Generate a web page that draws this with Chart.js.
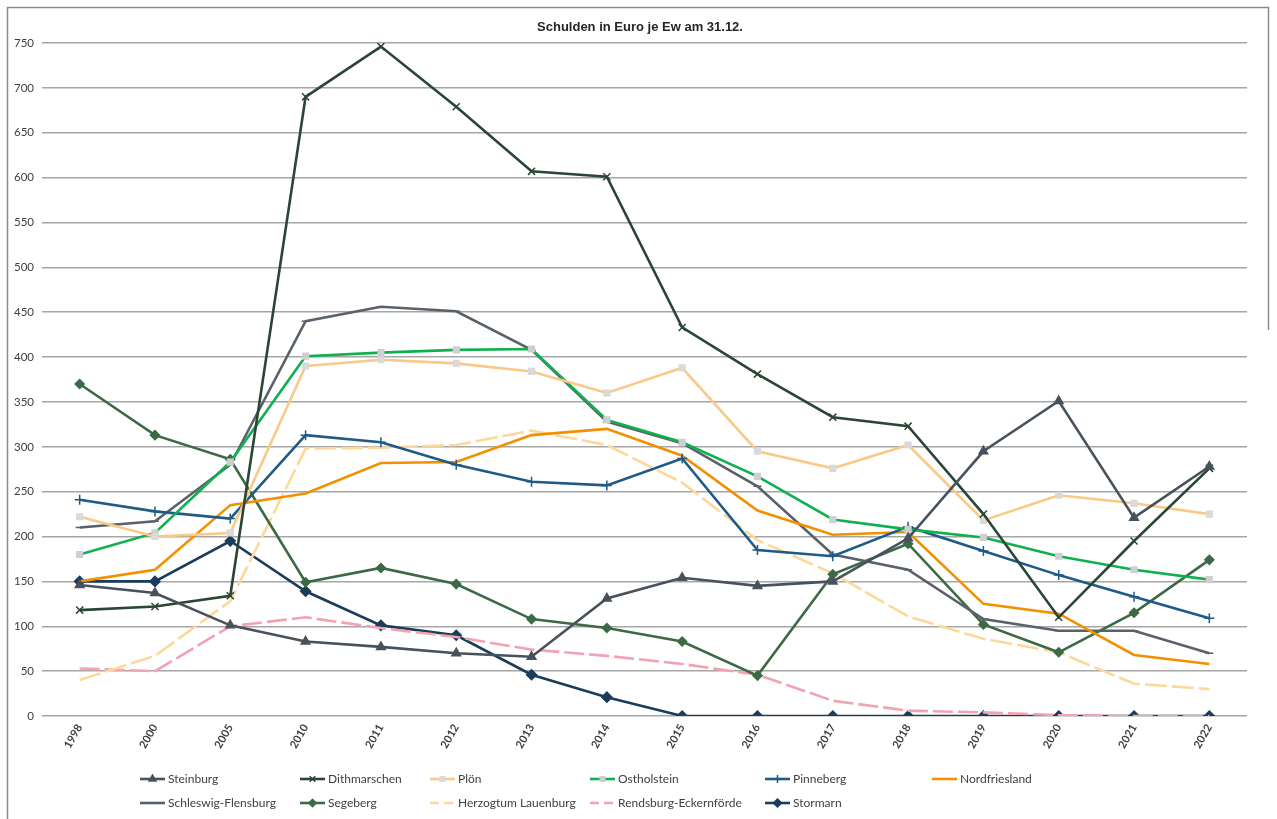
<!DOCTYPE html>
<html>
<head>
<meta charset="utf-8">
<script src="https://cdn.jsdelivr.net/npm/chart.js@4"></script>
<style>
  html, body { margin: 0; padding: 0; background: #fff; }
  #box { width: 1277px; height: 819px; }
</style>
</head>
<body>
<div id="box"><canvas id="Migrafica" width="1277" height="819"></canvas></div>
<script>
var titel = 'Schulden in Euro je Ew am 31.12.';
var jahre = ['1998','2000','2005','2010','2011','2012','2013','2014','2015','2016','2017','2018','2019','2020','2021','2022'];
var yTicks = [0,50,100,150,200,250,300,350,400,450,500,550,600,650,700,750];

var steinburg     = [146,137,101, 83, 77, 70, 66,131,154,145,150,198,295,351,221,278];
var dithmarschen  = [118,122,134,690,746,679,607,601,433,381,333,323,225,110,195,276];
var ploen         = [222,200,204,390,397,393,384,360,388,295,276,302,218,246,237,225];
var ostholstein   = [180,204,283,401,405,408,409,330,305,267,219,208,199,178,163,152];
var pinneberg     = [241,228,220,313,305,280,261,257,287,185,178,211,184,157,133,109];
var nordfriesland = [150,163,235,248,282,283,313,320,290,229,202,205,125,114, 68, 58];
var schleswig     = [210,217,280,440,456,451,408,328,304,256,180,163,108, 95, 95, 70];
var segeberg      = [370,313,286,149,165,147,108, 98, 83, 45,158,192,102, 71,115,174];
var lauenburg     = [ 40, 67,128,298,299,302,318,302,260,196,159,111, 86, 71, 36, 30];
var rendsburg     = [ 53, 50,100,110, 98, 88, 74, 67, 58, 46, 17,  6,  4,  1,  0,  0];
var stormarn      = [150,150,195,139,101, 90, 46, 21,  0,  0,  0,  0,  0,  0,  0,  0];

function serie(name, werte, farbe, form, punktFarbe, radius, strich){
  return {
    label: name,
    data: werte,
    borderColor: farbe,
    backgroundColor: punktFarbe || farbe,
    pointBackgroundColor: punktFarbe || farbe,
    pointBorderColor: punktFarbe || farbe,
    pointStyle: form,
    pointRadius: radius,
    pointBorderWidth: 1.5,
    borderWidth: 2.6,
    borderDash: strich || [],
    tension: 0,
    fill: false
  };
}

var datasets = [
  serie('Steinburg', steinburg, '#48525c', 'triangle', null, 5),
  serie('Dithmarschen', dithmarschen, '#2c4636', 'crossRot', null, 5),
  serie('Plön', ploen, '#f9c987', 'rect', '#dadada', 4),
  serie('Ostholstein', ostholstein, '#10b050', 'rect', '#cfcfcf', 4),
  serie('Pinneberg', pinneberg, '#1f5b86', 'cross', null, 5),
  serie('Nordfriesland', nordfriesland, '#f39000', 'circle', null, 0),
  serie('Schleswig-Flensburg', schleswig, '#59616a', 'line', null, 4),
  serie('Segeberg', segeberg, '#3b6a45', 'rectRot', null, 4.5),
  serie('Herzogtum Lauenburg', lauenburg, '#fcd99a', 'circle', null, 0, [22,5]),
  serie('Rendsburg-Eckernförde', rendsburg, '#f4a1b1', 'circle', null, 0, [20,5]),
  serie('Stormarn', stormarn, '#1b3c5a', 'rectRot', null, 5)
];

// Rahmen + Titel
var rahmen = {
  id: 'rahmen',
  beforeDraw: function(chart){
    var c = chart.ctx;
    c.save();
    c.fillStyle = '#fff';
    c.fillRect(0,0,chart.width,chart.height);
    c.strokeStyle = '#8c8c8c';
    c.lineWidth = 1.5;
    c.beginPath();
    c.moveTo(7.5, 819); c.lineTo(7.5, 7.5); c.lineTo(1268.5, 7.5); c.lineTo(1268.5, 330);
    c.stroke();
    c.font = 'bold 13px "Liberation Sans", Arial, sans-serif';
    c.fillStyle = '#262626';
    c.textAlign = 'center';
    c.textBaseline = 'middle';
    c.fillText(titel, 640, 27);
    c.restore();
  }
};

// Legende in zwei Reihen
var legende = {
  id: 'legende',
  afterDraw: function(chart){
    var c = chart.ctx;
    var spalten = [140, 300, 430, 590, 765, 932];
    var reihen = [779, 803];
    c.save();
    c.font = '12px Lato, "Liberation Sans", sans-serif';
    c.textBaseline = 'middle';
    c.textAlign = 'left';
    chart.data.datasets.forEach(function(ds, i){
      var r = i < 6 ? 0 : 1;
      var s = i < 6 ? i : i - 6;
      var x = spalten[s], y = reihen[r];
      c.strokeStyle = ds.borderColor;
      c.lineWidth = 2.6;
      c.setLineDash(ds.borderDash.length ? [9,5] : []);
      c.beginPath(); c.moveTo(x, y); c.lineTo(x + 25, y); c.stroke();
      c.setLineDash([]);
      if (ds.pointRadius > 0) {
        c.fillStyle = ds.pointBackgroundColor;
        c.strokeStyle = ds.pointBorderColor;
        c.lineWidth = 1.5;
        Chart.helpers.drawPoint(c, {
          pointStyle: ds.pointStyle, radius: ds.pointRadius * 0.8, borderWidth: 1.5, rotation: 0
        }, x + 12.5, y);
      }
      c.fillStyle = '#404040';
      c.fillText(ds.label, x + 28, y);
    });
    c.restore();
  }
};

var miCanvas = document.getElementById('Migrafica').getContext('2d');
var chart = new Chart(miCanvas, {
  type: 'line',
  data: { labels: jahre, datasets: datasets },
  plugins: [rahmen, legende],
  options: {
    responsive: false,
    animation: false,
    layout: { padding: { left: 7, right: 30, top: 43, bottom: 53 } },
    plugins: {
      legend: { display: false },
      title: { display: false },
      tooltip: { enabled: false }
    },
    scales: {
      x: {
        offset: true,
        grid: { display: false, drawTicks: false },
        border: { display: false },
        afterFit: function(s){ s.height = 50; },
        ticks: {
          minRotation: 60, maxRotation: 60,
          padding: 6,
          color: '#404040',
          font: { family: 'Lato, "Liberation Sans", sans-serif', size: 11, weight: 'bold' }
        }
      },
      y: {
        min: 0, max: 750,
        afterFit: function(s){ s.width = 35; },
        afterBuildTicks: function(s){ s.ticks = yTicks.map(function(v){ return { value: v }; }); },
        grid: { color: '#a6a6a6', lineWidth: 1.5, drawTicks: false },
        border: { display: false },
        ticks: {
          padding: 8,
          color: '#404040',
          font: { family: 'Lato, "Liberation Sans", sans-serif', size: 11.5 }
        }
      }
    }
  }
});
</script>
</body>
</html>
